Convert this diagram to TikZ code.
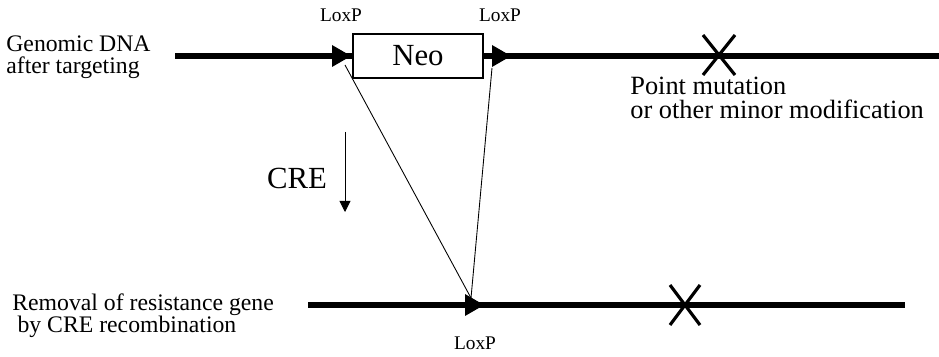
\documentclass[tikz,border=0pt]{standalone}
\usepackage{fontspec}
\setmainfont{Liberation Serif}
\usepackage{tikz}
\usetikzlibrary{arrows.meta}
\newcommand{\loxsite}[2]{\fill (#1-19,#2-11) -- (#1,#2) -- (#1-19,#2+11) -- cycle;}
\newcommand{\mutmark}[3]{\draw[line width=1.8pt] (#1-#3,#2-20) -- (#1+#3,#2+20) (#1-#3,#2+20) -- (#1+#3,#2-20);}

\begin{document}
\begin{tikzpicture}[x=0.02cm, y=-0.02cm]
    \tikzset{
        dna/.style={line width=2.9pt},
        thin/.style={line width=0.5pt},
        txt/.style={font=\fontsize{13.5}{12.5}\selectfont, align=left, inner sep=0pt},
        note/.style={font=\fontsize{15}{14}\selectfont, align=left, inner sep=0pt},
        lox/.style={font=\fontsize{11}{12}\selectfont, inner sep=0pt},
        big/.style={font=\fontsize{17.5}{20}\selectfont, inner sep=0pt}
    }
    \useasboundingbox (0,0) rectangle (939,357);

    % labels
    \node[txt, anchor=west] (genomic) at (6,57) {Genomic DNA\\after targeting};
    \node[txt, anchor=west] (removal) at (12,316) {Removal of resistance gene\\\hspace*{3pt}by CRE recombination};
    \node[note, anchor=west] (point) at (630,98) {Point mutation\\or other minor modification};
    \node[big] (cre) at (297,178) {CRE};
    \node[lox] (loxa) at (341,15) {LoxP};
    \node[lox] (loxb) at (500,15) {LoxP};
    \node[lox] (loxc) at (475,343) {LoxP};

    % upper strand
    \coordinate (ustart) at (175,56);
    \coordinate (uend) at (939,56);
    \draw[dna] (ustart) -- (uend);
    \node[draw, fill=white, line width=0.6pt, minimum width=2.6cm, minimum height=0.88cm, big] (neo) at (418,56) {Neo};
    \loxsite{351}{56}
    \loxsite{511}{56}
    \mutmark{719}{55}{16}

    % lower strand
    \coordinate (lstart) at (308,305);
    \coordinate (lend) at (905,305);
    \draw[dna] (lstart) -- (lend);
    \loxsite{484}{305}
    \mutmark{685}{305}{15}

    % excision lines
    \coordinate (cuta) at (345,65);
    \coordinate (cutb) at (492,68);
    \coordinate (join) at (471,298);
    \draw[thin] (cuta) -- (join);
    \draw[thin] (cutb) -- (join);

    % CRE arrow
    \coordinate (crea) at (345,132);
    \coordinate (creb) at (345,212);
    \draw[thin, -{Triangle[width=0.22cm, length=0.22cm]}] (crea) -- (creb);
\end{tikzpicture}
\end{document}
